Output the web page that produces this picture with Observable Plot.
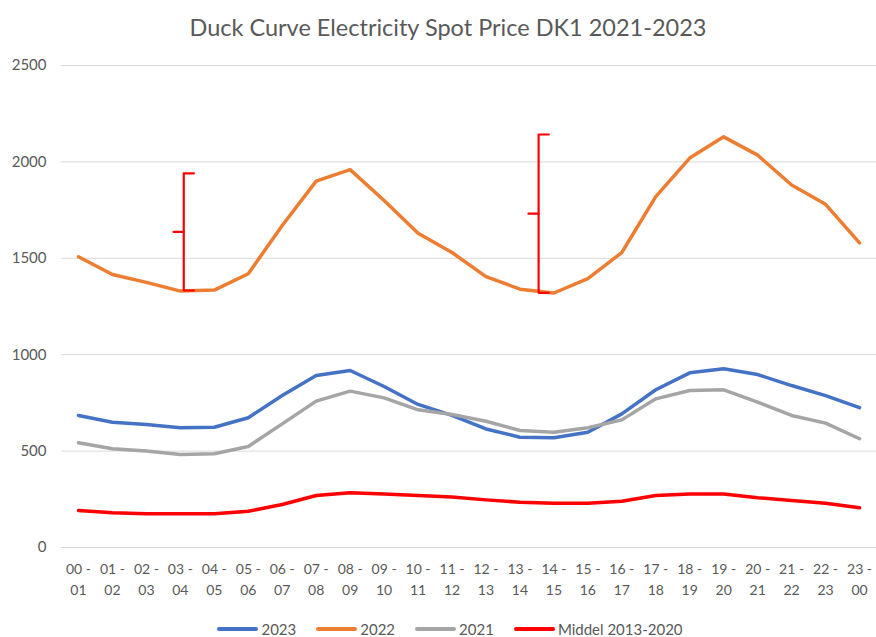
<!DOCTYPE html>
<html>
<head>
<meta charset="utf-8">
<script src="https://cdn.jsdelivr.net/npm/d3@7"></script>
<script src="https://cdn.jsdelivr.net/npm/@observablehq/plot@0.6"></script>
<style>
  body { margin: 0; background: #fff; font-family: Lato, "Open Sans", sans-serif; }
  #wrap { width: 876px; height: 637px; overflow: hidden; background: #fff; }
  #title { height: 52px; line-height: 54px; text-align: center; font-size: 23.5px; color: #595959; padding-left: 20px; box-sizing: border-box; }
  #chart { height: 560px; }
  #legend { height: 34px; display: flex; justify-content: center; align-items: center; font-size: 15px; color: #595959; padding-left: 24px; }
  .item { display: flex; align-items: center; margin: 0 10px; }
  .sw { width: 41px; height: 4px; border-radius: 2px; margin-right: 3px; }
</style>
</head>
<body>
<div id="wrap">
  <div id="title">Duck Curve Electricity Spot Price DK1 2021-2023</div>
  <div id="chart"></div>
  <div id="legend"></div>
</div>
<script>
const hourLabels = ["00 -\n01","01 -\n02","02 -\n03","03 -\n04","04 -\n05","05 -\n06","06 -\n07","07 -\n08",
  "08 -\n09","09 -\n10","10 -\n11","11 -\n12","12 -\n13","13 -\n14","14 -\n15","15 -\n16",
  "16 -\n17","17 -\n18","18 -\n19","19 -\n20","20 -\n21","21 -\n22","22 -\n23","23 -\n00"];
const yTicks = [0, 500, 1000, 1500, 2000, 2500];

const seriesNames = ["2023", "2022", "2021", "Middel 2013-2020"];
const seriesColors = ["#4472C4", "#ED7D31", "#A5A5A5", "#FF0000"];

const v2023 = [685, 650, 638, 621, 624, 673, 788, 892, 918, 835, 742, 685, 615, 572, 569, 598, 693, 818, 906, 927, 897, 840, 788, 725];
const v2022 = [1508, 1416, 1375, 1330, 1335, 1420, 1670, 1900, 1960, 1800, 1630, 1530, 1405, 1340, 1320, 1395, 1530, 1820, 2020, 2130, 2035, 1880, 1780, 1580];
const v2021 = [543, 512, 500, 482, 486, 524, 641, 759, 811, 776, 714, 690, 655, 607, 598, 621, 662, 771, 814, 818, 754, 685, 645, 564];
const vMiddel = [192, 180, 175, 175, 175, 188, 223, 270, 284, 278, 270, 262, 247, 235, 230, 230, 240, 270, 278, 278, 258, 244, 230, 206];

// Hand-drawn range brackets (position in hour index, low and high price)
const bracketX = [3.1, 13.55];
const bracketLow = [1333, 1321];
const bracketHigh = [1941, 2142];

const allValues = [v2023, v2022, v2021, vMiddel];
const seriesRows = allValues.map((vals, s) => vals.map((v, i) => ({i, v, series: seriesNames[s]})));

const tick = 0.3;
const bracketPaths = bracketX.map((x, k) => [
  {x: x + tick, y: bracketLow[k]},
  {x: x, y: bracketLow[k]},
  {x: x, y: bracketHigh[k]},
  {x: x + tick, y: bracketHigh[k]}
]);
const bracketMids = bracketX.map((x, k) => {
  const m = (bracketLow[k] + bracketHigh[k]) / 2;
  return [{x: x, y: m}, {x: x - tick, y: m}];
});

const chart = Plot.plot({
  width: 876,
  height: 560,
  marginLeft: 61,
  marginRight: 0,
  marginTop: 13,
  marginBottom: 65,
  x: {domain: [-0.5, 23.5]},
  y: {domain: [0, 2500]},
  style: {fontFamily: "Lato, 'Open Sans', sans-serif", color: "#595959", background: "#fff"},
  marks: [
    Plot.gridY(yTicks, {stroke: "#D9D9D9", strokeOpacity: 1, strokeWidth: 1}),
    Plot.axisY(yTicks, {tickSize: 0, tickPadding: 15, fontSize: 15, fill: "#595959", label: null, tickFormat: d => String(d)}),
    Plot.axisX(d3.range(24), {tickSize: 0, tickPadding: 12, tickFormat: i => hourLabels[i], fontSize: 14, lineHeight: 1.5, fill: "#595959", label: null}),
    ...seriesRows.map((rows, s) => Plot.line(rows, {
      x: "i", y: "v", stroke: seriesColors[s], strokeWidth: 3.5, strokeLinejoin: "round", strokeLinecap: "round"
    })),
    ...bracketPaths.map(p => Plot.line(p, {x: "x", y: "y", stroke: "#FF0000", strokeWidth: 2.2, strokeLinejoin: "round"})),
    ...bracketMids.map(p => Plot.line(p, {x: "x", y: "y", stroke: "#FF0000", strokeWidth: 2.2}))
  ]
});
document.getElementById("chart").appendChild(chart);

const legend = document.getElementById("legend");
seriesNames.forEach((name, s) => {
  const item = document.createElement("div");
  item.className = "item";
  const sw = document.createElement("div");
  sw.className = "sw";
  sw.style.background = seriesColors[s];
  const label = document.createElement("span");
  label.textContent = name;
  item.appendChild(sw);
  item.appendChild(label);
  legend.appendChild(item);
});
</script>
</body>
</html>
